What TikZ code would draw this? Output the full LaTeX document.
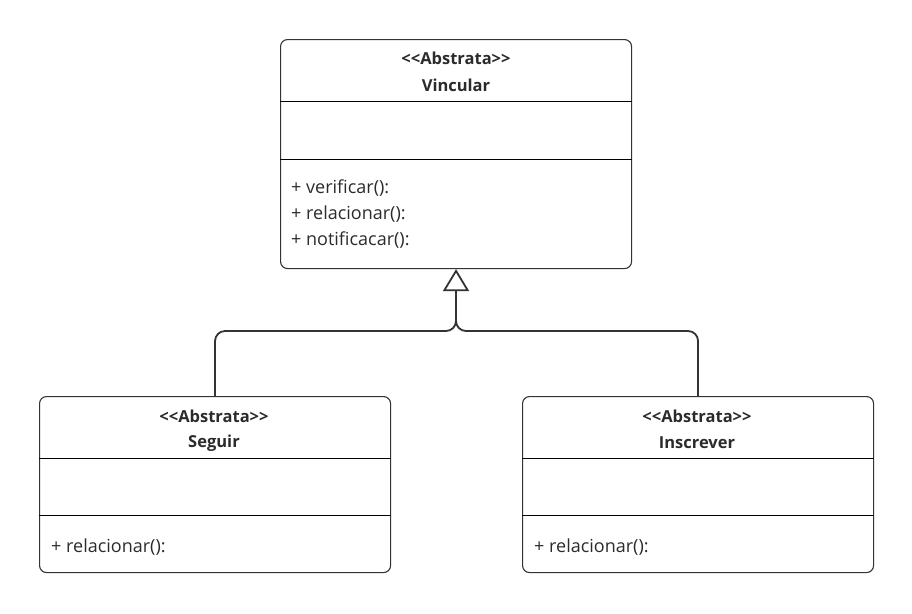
\documentclass[tikz,border=0pt]{standalone}
\usepackage{fontspec}
\setmainfont{Open Sans}
\usetikzlibrary{arrows.meta}
\definecolor{linegray}{HTML}{333333}
\definecolor{textgray}{HTML}{2B2B2B}
\tikzset{
  classbox/.style={draw=linegray, line width=1.1pt, rounded corners=7pt,
    minimum width=351pt, inner sep=0pt, anchor=north west},
  stereo/.style={font=\bfseries\fontsize{16.5}{18}\selectfont, text=textgray},
  member/.style={font=\fontsize{18}{20}\selectfont, text=textgray, anchor=west, inner sep=0pt},
  divider/.style={draw=black, line width=1pt},
  link/.style={draw=linegray, line width=1.8pt, rounded corners=10pt},
  inherit/.style={link, -{Triangle[open, width=26pt, length=22pt, line width=1.8pt]}}
}
\begin{document}
\begin{tikzpicture}[x=1pt,y=-1pt]
\useasboundingbox (0,0) rectangle (912,613);

% superclass
\node[classbox, minimum height=229pt] (vincular) at (280,39) {};
\node[stereo] (vincularst) at (456,58) {<{}<Abstrata>{}>};
\node[stereo] (vincularnm) at (456,85) {Vincular};
\draw[divider] ([yshift=-62pt]vincular.north west) -- ([yshift=-62pt]vincular.north east);
\draw[divider] ([yshift=-120pt]vincular.north west) -- ([yshift=-120pt]vincular.north east);
\node[member] (vincularm1) at (291,188) {+ verificar():};
\node[member] (vincularm2) at (291,214) {+ relacionar():};
\node[member] (vincularm3) at (291,240) {+ notificacar():};

% subclasses
\node[classbox, minimum height=176pt] (seguir) at (39,396) {};
\node[stereo] (seguirst) at (214,416) {<{}<Abstrata>{}>};
\node[stereo] (seguirnm) at (214,443) {Seguir};
\draw[divider] ([yshift=-62pt]seguir.north west) -- ([yshift=-62pt]seguir.north east);
\draw[divider] ([yshift=-119pt]seguir.north west) -- ([yshift=-119pt]seguir.north east);
\node[member] (seguirm1) at (51,547) {+ relacionar():};

\node[classbox, minimum height=176pt] (inscrever) at (522,396) {};
\node[stereo] (inscreverst) at (697,416) {<{}<Abstrata>{}>};
\node[stereo] (inscrevernm) at (697,443) {Inscrever};
\draw[divider] ([yshift=-62pt]inscrever.north west) -- ([yshift=-62pt]inscrever.north east);
\draw[divider] ([yshift=-119pt]inscrever.north west) -- ([yshift=-119pt]inscrever.north east);
\node[member] (inscreverm1) at (534,547) {+ relacionar():};

% generalisation
\coordinate (join) at (456,331);
\coordinate (stem) at (456,300);
\draw[link] (inscrever.north) |- (join) -- (stem);
\draw[inherit] (seguir.north) |- (join) -- (vincular.south);
\end{tikzpicture}
\end{document}
